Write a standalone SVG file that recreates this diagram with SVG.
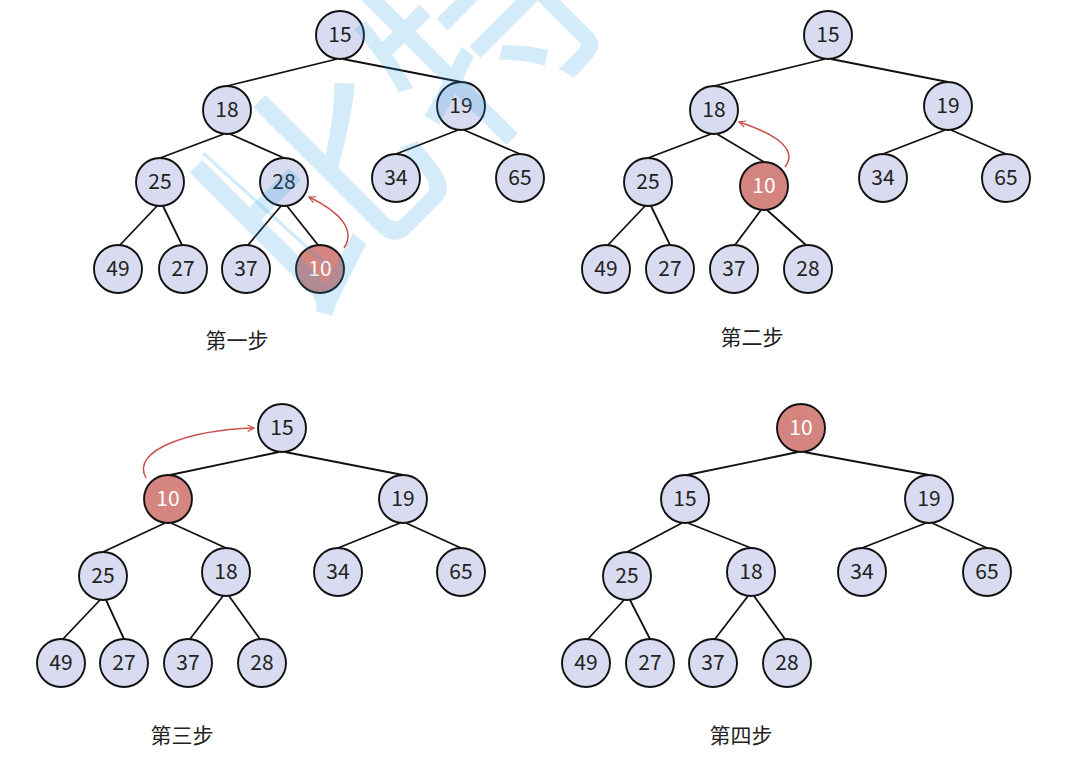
<svg xmlns="http://www.w3.org/2000/svg" width="1068" height="770" viewBox="0 0 1068 770">
<defs>
<style>
.e{stroke:#111;stroke-width:1.8;fill:none}
.n circle{fill:#d9dcf0;stroke:#111;stroke-width:1.9}
.n text{font-family:"Noto Sans CJK SC","Noto Sans",sans-serif;font-size:21px;fill:#222;text-anchor:middle}
.r circle{fill:#d4857f}
.r text{fill:#fff}
.a{stroke:#c8504a;stroke-width:1.5;fill:none}
.lbl{font-family:"Noto Sans CJK SC",sans-serif;font-size:21px;fill:#222;text-anchor:middle}
.wm{font-family:"Noto Sans CJK SC",sans-serif;font-size:225px;fill:rgb(40,160,230);fill-opacity:0.2}
</style>
<marker id="ah" viewBox="0 0 10 10" refX="9" refY="5" markerWidth="8" markerHeight="8" orient="auto" markerUnits="userSpaceOnUse">
<path d="M1,1 L9,5 L1,9" fill="none" stroke="#c8504a" stroke-width="1.5"/>
</marker>
</defs>
<rect width="1068" height="770" fill="#fff"/>

<g id="connectors">
<!-- step 1 -->
<line class="e" x1="337" y1="59" x2="227" y2="86"/>
<line class="e" x1="343" y1="59" x2="461" y2="82"/>
<line class="e" x1="224" y1="134" x2="160" y2="158"/>
<line class="e" x1="230" y1="134" x2="284" y2="158"/>
<line class="e" x1="458" y1="130" x2="396" y2="154"/>
<line class="e" x1="464" y1="130" x2="520" y2="154"/>
<line class="e" x1="157" y1="206" x2="120" y2="245"/>
<line class="e" x1="163" y1="206" x2="182" y2="245"/>
<line class="e" x1="281" y1="206" x2="248" y2="245"/>
<line class="e" x1="287" y1="206" x2="318" y2="245"/>
<path class="a" d="M344,248 C356,230 340,212 309,197" marker-end="url(#ah)"/>
<!-- step 2 -->
<line class="e" x1="825" y1="59" x2="714" y2="86"/>
<line class="e" x1="831" y1="59" x2="948" y2="82"/>
<line class="e" x1="711" y1="134" x2="648" y2="158"/>
<line class="e" x1="717" y1="134" x2="764" y2="162"/>
<line class="e" x1="945" y1="130" x2="883" y2="154"/>
<line class="e" x1="951" y1="130" x2="1006" y2="154"/>
<line class="e" x1="645" y1="206" x2="608" y2="245"/>
<line class="e" x1="651" y1="206" x2="670" y2="245"/>
<line class="e" x1="761" y1="210" x2="735" y2="245"/>
<line class="e" x1="767" y1="210" x2="806" y2="245"/>
<path class="a" d="M785,167 C798,150 778,135 739,122" marker-end="url(#ah)"/>
<!-- step 3 -->
<line class="e" x1="279" y1="452" x2="170" y2="475"/>
<line class="e" x1="285" y1="452" x2="403" y2="475"/>
<line class="e" x1="165" y1="523" x2="103" y2="552"/>
<line class="e" x1="171" y1="523" x2="226" y2="548"/>
<line class="e" x1="400" y1="523" x2="338" y2="548"/>
<line class="e" x1="406" y1="523" x2="461" y2="548"/>
<line class="e" x1="100" y1="600" x2="63" y2="639"/>
<line class="e" x1="106" y1="600" x2="124" y2="639"/>
<line class="e" x1="223" y1="596" x2="190" y2="639"/>
<line class="e" x1="229" y1="596" x2="260" y2="639"/>
<path class="a" d="M146,478 C130,450 190,430 254,428" marker-end="url(#ah)"/>
<!-- step 4 -->
<line class="e" x1="798" y1="452" x2="687" y2="475"/>
<line class="e" x1="804" y1="452" x2="929" y2="475"/>
<line class="e" x1="682" y1="523" x2="627" y2="552"/>
<line class="e" x1="688" y1="523" x2="751" y2="548"/>
<line class="e" x1="926" y1="523" x2="862" y2="548"/>
<line class="e" x1="932" y1="523" x2="987" y2="548"/>
<line class="e" x1="624" y1="600" x2="588" y2="639"/>
<line class="e" x1="630" y1="600" x2="650" y2="639"/>
<line class="e" x1="748" y1="596" x2="715" y2="639"/>
<line class="e" x1="754" y1="596" x2="785" y2="639"/>
</g>

<!-- step 1 nodes -->
<g id="s1-15" class="n"><circle cx="340" cy="35" r="24"/><text x="340" y="42">15</text></g>
<g id="s1-18" class="n"><circle cx="227" cy="110" r="24"/><text x="227" y="117">18</text></g>
<g id="s1-19" class="n"><circle cx="461" cy="106" r="24"/><text x="461" y="113">19</text></g>
<g id="s1-25" class="n"><circle cx="160" cy="182" r="24"/><text x="160" y="189">25</text></g>
<g id="s1-28" class="n"><circle cx="284" cy="182" r="24"/><text x="284" y="189">28</text></g>
<g id="s1-34" class="n"><circle cx="396" cy="178" r="24"/><text x="396" y="185">34</text></g>
<g id="s1-65" class="n"><circle cx="520" cy="178" r="24"/><text x="520" y="185">65</text></g>
<g id="s1-49" class="n"><circle cx="118" cy="269" r="24"/><text x="118" y="276">49</text></g>
<g id="s1-27" class="n"><circle cx="183" cy="269" r="24"/><text x="183" y="276">27</text></g>
<g id="s1-37" class="n"><circle cx="246" cy="269" r="24"/><text x="246" y="276">37</text></g>
<g id="s1-10" class="n r"><circle cx="320" cy="269" r="24"/><text x="320" y="276">10</text></g>
<text class="lbl" x="237" y="348">第一步</text>

<!-- step 2 nodes -->
<g id="s2-15" class="n"><circle cx="828" cy="35" r="24"/><text x="828" y="42">15</text></g>
<g id="s2-18" class="n"><circle cx="714" cy="110" r="24"/><text x="714" y="117">18</text></g>
<g id="s2-19" class="n"><circle cx="948" cy="106" r="24"/><text x="948" y="113">19</text></g>
<g id="s2-25" class="n"><circle cx="648" cy="182" r="24"/><text x="648" y="189">25</text></g>
<g id="s2-10" class="n r"><circle cx="764" cy="186" r="24"/><text x="764" y="193">10</text></g>
<g id="s2-34" class="n"><circle cx="883" cy="178" r="24"/><text x="883" y="185">34</text></g>
<g id="s2-65" class="n"><circle cx="1006" cy="178" r="24"/><text x="1006" y="185">65</text></g>
<g id="s2-49" class="n"><circle cx="606" cy="269" r="24"/><text x="606" y="276">49</text></g>
<g id="s2-27" class="n"><circle cx="670" cy="269" r="24"/><text x="670" y="276">27</text></g>
<g id="s2-37" class="n"><circle cx="734" cy="269" r="24"/><text x="734" y="276">37</text></g>
<g id="s2-28" class="n"><circle cx="808" cy="269" r="24"/><text x="808" y="276">28</text></g>
<text class="lbl" x="752" y="345">第二步</text>

<!-- step 3 nodes -->
<g id="s3-15" class="n"><circle cx="282" cy="428" r="24"/><text x="282" y="435">15</text></g>
<g id="s3-10" class="n r"><circle cx="168" cy="499" r="24"/><text x="168" y="506">10</text></g>
<g id="s3-19" class="n"><circle cx="403" cy="499" r="24"/><text x="403" y="506">19</text></g>
<g id="s3-25" class="n"><circle cx="103" cy="576" r="24"/><text x="103" y="583">25</text></g>
<g id="s3-18" class="n"><circle cx="226" cy="572" r="24"/><text x="226" y="579">18</text></g>
<g id="s3-34" class="n"><circle cx="338" cy="572" r="24"/><text x="338" y="579">34</text></g>
<g id="s3-65" class="n"><circle cx="461" cy="572" r="24"/><text x="461" y="579">65</text></g>
<g id="s3-49" class="n"><circle cx="61" cy="663" r="24"/><text x="61" y="670">49</text></g>
<g id="s3-27" class="n"><circle cx="124" cy="663" r="24"/><text x="124" y="670">27</text></g>
<g id="s3-37" class="n"><circle cx="188" cy="663" r="24"/><text x="188" y="670">37</text></g>
<g id="s3-28" class="n"><circle cx="262" cy="663" r="24"/><text x="262" y="670">28</text></g>
<text class="lbl" x="182" y="743">第三步</text>

<!-- step 4 nodes -->
<g id="s4-10" class="n r"><circle cx="801" cy="428" r="24"/><text x="801" y="435">10</text></g>
<g id="s4-15" class="n"><circle cx="685" cy="499" r="24"/><text x="685" y="506">15</text></g>
<g id="s4-19" class="n"><circle cx="929" cy="499" r="24"/><text x="929" y="506">19</text></g>
<g id="s4-25" class="n"><circle cx="627" cy="576" r="24"/><text x="627" y="583">25</text></g>
<g id="s4-18" class="n"><circle cx="751" cy="572" r="24"/><text x="751" y="579">18</text></g>
<g id="s4-34" class="n"><circle cx="862" cy="572" r="24"/><text x="862" y="579">34</text></g>
<g id="s4-65" class="n"><circle cx="987" cy="572" r="24"/><text x="987" y="579">65</text></g>
<g id="s4-49" class="n"><circle cx="586" cy="663" r="24"/><text x="586" y="670">49</text></g>
<g id="s4-27" class="n"><circle cx="650" cy="663" r="24"/><text x="650" y="670">27</text></g>
<g id="s4-37" class="n"><circle cx="713" cy="663" r="24"/><text x="713" y="670">37</text></g>
<g id="s4-28" class="n"><circle cx="787" cy="663" r="24"/><text x="787" y="670">28</text></g>
<text class="lbl" x="741" y="743">第四步</text>

<g id="watermark">
<text class="wm" transform="translate(301,325) rotate(-45)" x="0" y="0">比特就业课</text>
<line x1="203" y1="153" x2="330" y2="268" stroke="rgb(40,160,230)" stroke-opacity="0.2" stroke-width="3.5"/>
</g>
</svg>
